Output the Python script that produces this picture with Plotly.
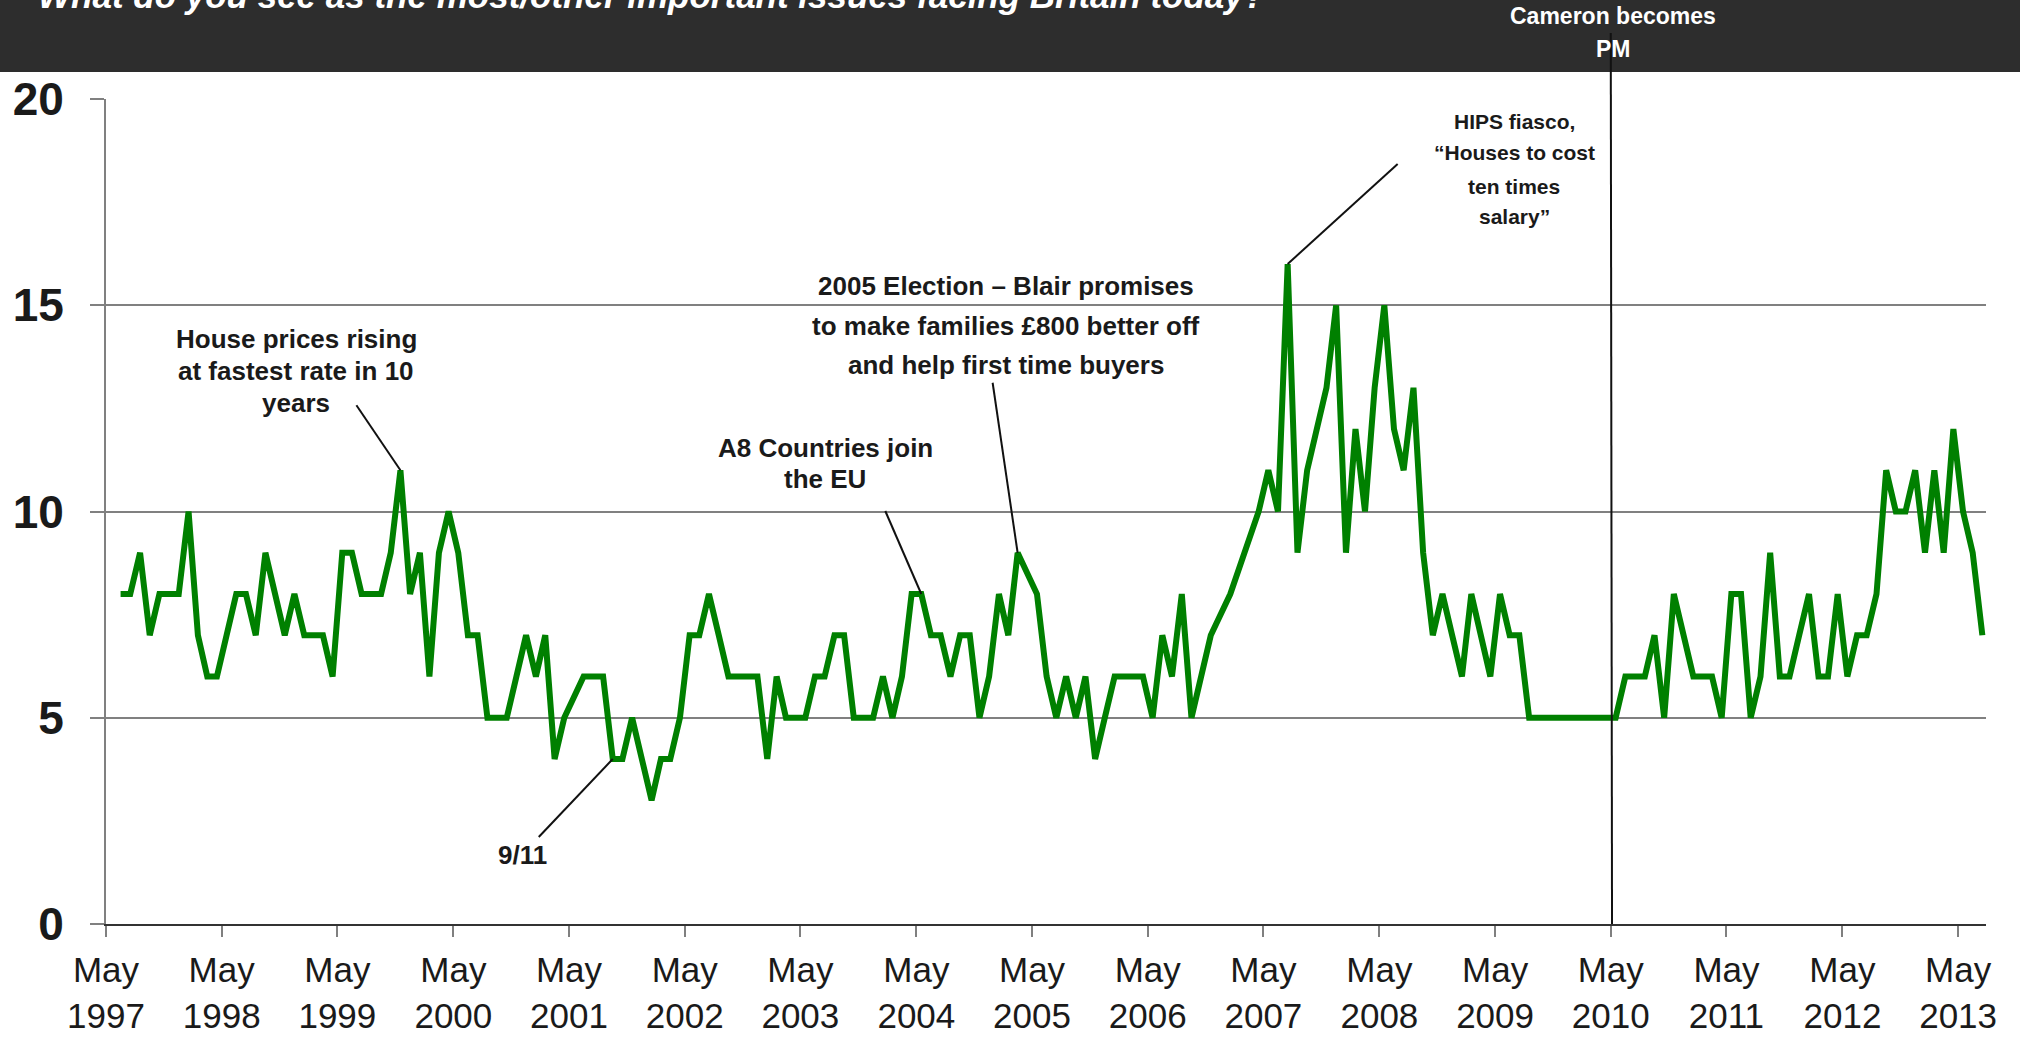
import pandas as pd
import plotly.graph_objects as go

FONT = "Liberation Sans, Arial, Helvetica, sans-serif"

# ---------------- data (monthly, % naming housing as an important issue) ----------------
months = [
    "1997-06", "1997-07", "1997-08", "1997-09", "1997-10", "1997-11", "1997-12",
    "1998-01", "1998-02", "1998-03", "1998-04", "1998-05", "1998-06", "1998-07", "1998-08",
    "1998-09", "1998-10", "1998-11", "1998-12",
    "1999-01", "1999-02", "1999-03", "1999-04", "1999-05", "1999-06", "1999-07", "1999-08",
    "1999-09", "1999-10", "1999-11", "1999-12",
    "2000-01", "2000-02", "2000-03", "2000-04", "2000-05", "2000-06", "2000-07", "2000-08",
    "2000-09", "2000-10", "2000-11", "2000-12",
    "2001-01", "2001-02", "2001-03", "2001-04", "2001-06", "2001-07", "2001-08",
    "2001-09", "2001-10", "2001-11", "2001-12",
    "2002-01", "2002-02", "2002-03", "2002-04", "2002-05", "2002-06", "2002-07", "2002-08",
    "2002-09", "2002-10", "2002-11", "2002-12",
    "2003-01", "2003-02", "2003-03", "2003-04", "2003-05", "2003-06", "2003-07", "2003-08",
    "2003-09", "2003-10", "2003-11", "2003-12",
    "2004-01", "2004-02", "2004-03", "2004-04", "2004-05", "2004-06", "2004-07", "2004-08",
    "2004-09", "2004-10", "2004-11", "2004-12",
    "2005-01", "2005-02", "2005-03", "2005-05", "2005-06", "2005-07", "2005-08",
    "2005-09", "2005-10", "2005-11", "2005-12",
    "2006-01", "2006-02", "2006-03", "2006-04", "2006-05", "2006-06", "2006-07", "2006-08",
    "2006-09", "2006-11",
    "2007-01", "2007-04", "2007-05", "2007-06", "2007-07", "2007-08",
    "2007-09", "2007-10", "2007-11", "2007-12",
    "2008-01", "2008-02", "2008-03", "2008-04", "2008-05", "2008-06", "2008-07", "2008-08",
    "2008-09", "2008-10", "2008-11", "2008-12",
    "2009-01", "2009-02", "2009-03", "2009-04", "2009-05", "2009-06", "2009-07", "2009-08",
    "2009-09", "2009-10", "2009-11", "2009-12",
    "2010-01", "2010-02", "2010-03", "2010-04", "2010-05", "2010-06", "2010-07", "2010-08",
    "2010-09", "2010-10", "2010-11", "2010-12",
    "2011-01", "2011-02", "2011-03", "2011-04", "2011-05", "2011-06", "2011-07", "2011-08",
    "2011-09", "2011-10", "2011-11", "2011-12",
    "2012-01", "2012-02", "2012-03", "2012-04", "2012-05", "2012-06", "2012-07", "2012-08",
    "2012-09", "2012-10", "2012-11", "2012-12",
    "2013-01", "2013-02", "2013-03", "2013-04", "2013-05", "2013-06", "2013-07",
]
values = [
    8, 8, 9, 7, 8, 8, 8,
    10, 7, 6, 6, 7, 8, 8, 7,
    9, 8, 7, 8,
    7, 7, 7, 6, 9, 9, 8, 8,
    8, 9, 11, 8,
    9, 6, 9, 10, 9, 7, 7, 5,
    5, 5, 6, 7,
    6, 7, 4, 5, 6, 6, 6,
    4, 4, 5, 4,
    3, 4, 4, 5, 7, 7, 8, 7,
    6, 6, 6, 6,
    4, 6, 5, 5, 5, 6, 6, 7,
    7, 5, 5, 5,
    6, 5, 6, 8, 8, 7, 7, 6,
    7, 7, 5, 6,
    8, 7, 9, 8, 6, 5, 6,
    5, 6, 4, 5,
    6, 6, 6, 6, 5, 7, 6, 8,
    5, 7,
    8, 10, 11, 10, 16, 9,
    11, 12, 13, 15,
    9, 12, 10, 13, 15, 12, 11, 13,
    9, 7, 8, 7,
    6, 8, 7, 6, 8, 7, 7, 5,
    5, 5, 5, 5,
    5, 5, 5, 5, 5, 6, 6, 6,
    7, 5, 8, 7,
    6, 6, 6, 5, 8, 8, 5, 6,
    9, 6, 6, 7,
    8, 6, 6, 8, 6, 7, 7, 8,
    11, 10, 10, 11,
    9, 11, 9, 12, 10, 9, 7,
]

tick_years = [1997, 1998, 1999, 2000, 2001, 2002, 2003, 2004, 2005, 2006,
              2007, 2008, 2009, 2010, 2011, 2012, 2013]
tick_month = "May"
y_ticks = [0, 5, 10, 15, 20]

title_text = "What do you see as the most/other important issues facing Britain today?"

# event annotations: (month of the pointed data point, text lines)
events = [
    ("1999-11", ["House prices rising", "at fastest rate in 10", "years"]),
    ("2001-09", ["9/11"]),
    ("2004-05", ["A8 Countries join", "the EU"]),
    ("2005-03", ["2005 Election \u2013 Blair promises", "to make families \u00a3800 better off",
                 "and help first time buyers"]),
    ("2007-07", ["HIPS fiasco,", "\u201cHouses to cost", "ten times", "salary\u201d"]),
]
cameron_month = "2010-05"
cameron_lines = ["Cameron becomes", "PM"]

# ---------------- layout geometry (pixels in the 2020x1037 page) ----------------
W, H = 2020, 1037
L, R, T, B = 106, 34, 99, 113
PW, PH = W - L - R, H - T - B


def px(x):
    return (x - L) / PW


def py(y):
    return (H - B - y) / PH


# label placement for each event: centre x, y of every line; font size; leader offset (tail - tip) in px
event_layout = [
    dict(cx=296, ys=[339, 371, 403], size=26, lead=(-44, 65)),
    dict(cx=522, ys=[855], size=26, lead=(-74, -78)),
    dict(cx=825, ys=[448, 479], size=26, lead=(-36, 83)),
    dict(cx=1006, ys=[286, 326, 365], size=26, lead=(-25, 170)),
    dict(cx=1514, ys=[122, 153, 186, 216], size=21, lead=(110, 100)),
]


def mid_month(m):
    p = pd.Period(m, "M")
    mid = p.start_time + (p.end_time - p.start_time) / 2
    return mid.strftime("%Y-%m-%d %H:%M")


fig = go.Figure()
fig.add_trace(go.Scatter(
    x=months, y=values, mode="lines",
    xperiod="M1", xperiodalignment="middle",
    line=dict(color="#008000", width=6),
    hoverinfo="skip", showlegend=False,
))

shapes = [
    # dark header band
    dict(type="rect", xref="paper", yref="paper", x0=px(-10), x1=px(W + 10),
         y0=py(72), y1=py(-10), fillcolor="#2d2d2d", line=dict(width=0), layer="above"),
    # Cameron becomes PM marker
    dict(type="line", xref="x", yref="paper", x0=cameron_month + "-01", x1=cameron_month + "-05",
         y0=py(33), y1=0, line=dict(color="#111111", width=2), layer="above"),
]
annotations = [
    dict(text="<b><i>" + title_text + "</i></b>", xref="paper", yref="paper",
         x=px(36), y=py(-5), xanchor="left", yanchor="middle", showarrow=False,
         font=dict(family=FONT, size=35, color="white")),
]
for line_txt, yy in zip(cameron_lines, [16, 49]):
    annotations.append(dict(text="<b>" + line_txt + "</b>", xref="paper", yref="paper",
                            x=px(1613), y=py(yy), xanchor="center", yanchor="middle",
                            showarrow=False, font=dict(family=FONT, size=23, color="white")))

for (m, lines), lay in zip(events, event_layout):
    v = values[months.index(m)]
    dx, dy = lay["lead"]
    shapes.append(dict(type="line", xref="x", yref="y", xsizemode="pixel", ysizemode="pixel",
                       xanchor=mid_month(m), yanchor=v, x0=dx, y0=dy, x1=0, y1=0,
                       line=dict(color="#111111", width=2), layer="above"))
    for t, yy in zip(lines, lay["ys"]):
        annotations.append(dict(text="<b>" + t + "</b>", xref="paper", yref="paper",
                                x=px(lay["cx"]), y=py(yy), xanchor="center", yanchor="middle",
                                showarrow=False,
                                font=dict(family=FONT, size=lay["size"], color="#1a1a1a")))

fig.update_layout(
    width=W, height=H, autosize=False,
    margin=dict(l=L, r=R, t=T, b=B, pad=0, autoexpand=False),
    paper_bgcolor="white", plot_bgcolor="white",
    showlegend=False,
    shapes=shapes, annotations=annotations,
    xaxis=dict(
        type="date", range=["1997-05-01", "2013-07-28"],
        tickvals=[f"{y}-05-01" for y in tick_years],
        ticktext=[f"{tick_month}<br>{y}" for y in tick_years],
        ticks="outside", ticklen=11, tickwidth=1.5, tickcolor="#808080",
        showgrid=False, zeroline=False, automargin=False,
        showline=True, linecolor="#333333", linewidth=2,
        tickfont=dict(family=FONT, size=35, color="#1a1a1a"),
        ticklabelstandoff=3,
    ),
    yaxis=dict(
        range=[0, 20], tickvals=y_ticks, ticktext=[str(v) for v in y_ticks],
        ticks="outside", ticklen=14, tickwidth=2, tickcolor="#808080",
        showgrid=True, gridcolor="#808080", gridwidth=2, automargin=False,
        zeroline=False, showline=True, linecolor="#808080", linewidth=2,
        tickfont=dict(family=FONT, size=46, color="#1a1a1a", weight="bold"),
        ticklabelstandoff=17,
    ),
)

fig.write_html("out.html", config={"displayModeBar": False},
               post_script="document.body.style.margin='0';document.body.style.overflow='hidden';")
